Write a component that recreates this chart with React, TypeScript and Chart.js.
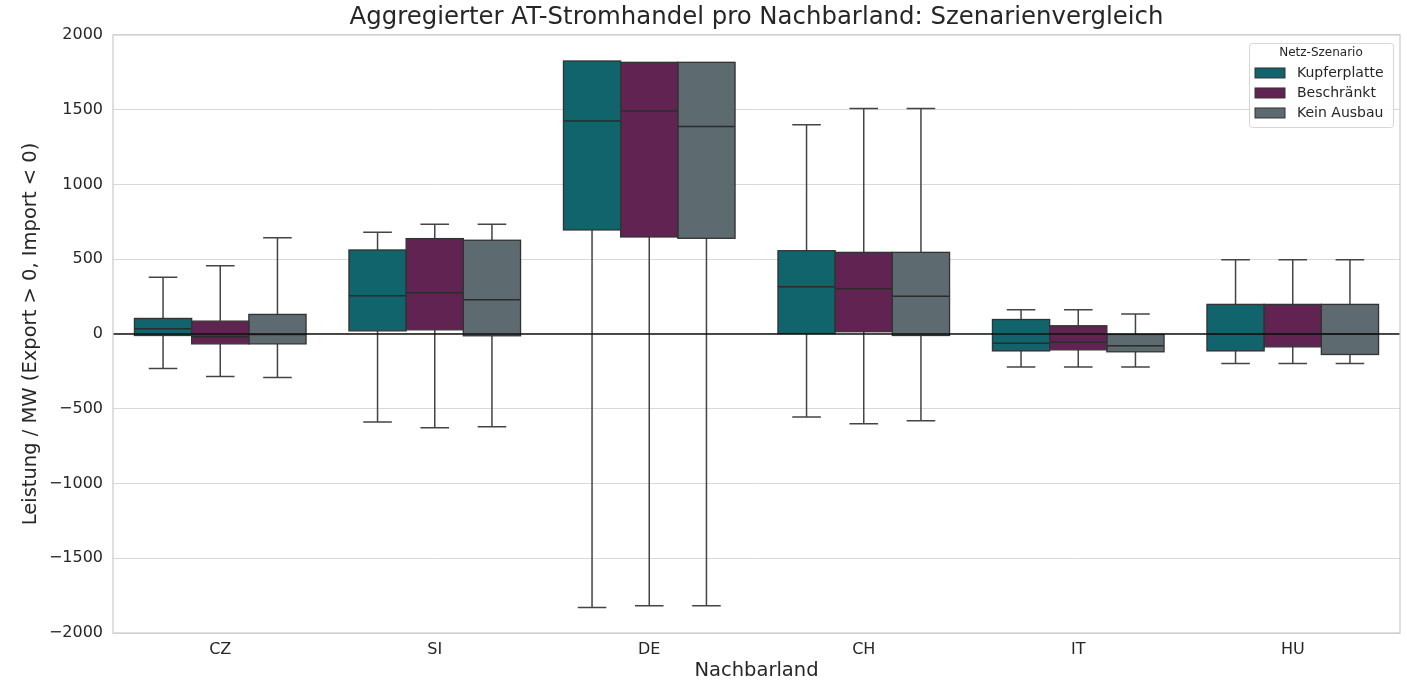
import React, { useEffect, useRef } from "react";
import { Chart, registerables } from "chart.js";

Chart.register(...registerables);

const categories = ["CZ", "SI", "DE", "CH", "IT", "HU"];
const scenarios = ["Kupferplatte", "Beschränkt", "Kein Ausbau"];
const colors = ["#11636c", "#612452", "#5d6a70"];

// per scenario: values for each category
const whiskerLow = [
  [-231, -589, -1830, -556, -220, -198],
  [-285, -627, -1817, -600, -220, -198],
  [-291, -620, -1817, -580, -220, -198],
];
const q1 = [
  [-10, 21, 696, 3, -113, -113],
  [-66, 28, 649, 15, -106, -86],
  [-66, -12, 640, -10, -119, -137],
];
const median = [
  [35, 256, 1424, 316, -62, 0],
  [-19, 276, 1491, 303, -55, 0],
  [-3, 229, 1388, 253, -79, 0],
];
const q3 = [
  [104, 562, 1826, 557, 97, 198],
  [86, 638, 1817, 546, 55, 198],
  [131, 627, 1817, 546, -3, 198],
];
const whiskerHigh = [
  [380, 680, 1826, 1399, 162, 497],
  [457, 734, 1817, 1509, 162, 497],
  [644, 734, 1817, 1509, 133, 497],
];

const yTicks = [-2000, -1500, -1000, -500, 0, 500, 1000, 1500, 2000];

const FONT = "'DejaVu Sans', sans-serif";
const TEXT = "#262626";

const boxPlugin = {
  id: "boxWhiskers",
  afterDatasetsDraw(chart: any) {
    const ctx = chart.ctx;
    const y = chart.scales.y;
    const area = chart.chartArea;
    ctx.save();
    chart.data.datasets.forEach((_: any, d: number) => {
      const meta = chart.getDatasetMeta(d);
      meta.data.forEach((el: any, i: number) => {
        const x = el.x;
        const w = el.width;
        const yq1 = y.getPixelForValue(q1[d][i]);
        const yq3 = y.getPixelForValue(q3[d][i]);
        const ylo = y.getPixelForValue(whiskerLow[d][i]);
        const yhi = y.getPixelForValue(whiskerHigh[d][i]);
        const ymed = y.getPixelForValue(median[d][i]);
        ctx.strokeStyle = "#444444";
        ctx.lineWidth = 1.5;
        ctx.beginPath();
        if (Math.abs(yhi - yq3) > 0.5) {
          ctx.moveTo(x, yq3);
          ctx.lineTo(x, yhi);
          ctx.moveTo(x - w / 4, yhi);
          ctx.lineTo(x + w / 4, yhi);
        }
        ctx.moveTo(x, yq1);
        ctx.lineTo(x, ylo);
        ctx.moveTo(x - w / 4, ylo);
        ctx.lineTo(x + w / 4, ylo);
        ctx.stroke();
        ctx.strokeStyle = "#2b2b2b";
        ctx.lineWidth = 1.5;
        ctx.beginPath();
        ctx.moveTo(x - w / 2, ymed);
        ctx.lineTo(x + w / 2, ymed);
        ctx.stroke();
        // crisp box outline
        ctx.strokeStyle = "#333333";
        ctx.lineWidth = 1.3;
        ctx.strokeRect(x - w / 2, yq3, w, yq1 - yq3);
      });
    });
    // zero line
    const y0 = y.getPixelForValue(0);
    ctx.strokeStyle = "#111111";
    ctx.lineWidth = 1.6;
    ctx.beginPath();
    ctx.moveTo(area.left, y0);
    ctx.lineTo(area.right, y0);
    ctx.stroke();
    // frame
    ctx.strokeStyle = "#cccccc";
    ctx.lineWidth = 1.25;
    ctx.strokeRect(area.left, area.top, area.right - area.left, area.bottom - area.top);
    ctx.restore();
  },
  afterDraw(chart: any) {
    const ctx = chart.ctx;
    const area = chart.chartArea;
    const right = area.right - 7;
    const top = area.top + 8;
    const w = 144;
    const h = 84;
    const left = right - w;
    ctx.save();
    ctx.fillStyle = "rgba(255,255,255,0.85)";
    ctx.strokeStyle = "#d5d5d5";
    ctx.lineWidth = 1;
    ctx.beginPath();
    (ctx as any).roundRect(left + 0.5, top + 0.5, w, h, 3);
    ctx.fill();
    ctx.stroke();
    ctx.fillStyle = TEXT;
    ctx.font = `12px ${FONT}`;
    ctx.textAlign = "center";
    ctx.textBaseline = "middle";
    ctx.fillText("Netz-Szenario", left + w / 2, top + 10);
    ctx.font = `14px ${FONT}`;
    ctx.textAlign = "left";
    chart.data.datasets.forEach((ds: any, d: number) => {
      const cy = top + 30 + d * 20;
      ctx.fillStyle = ds.backgroundColor;
      ctx.fillRect(left + 6, cy - 5, 30, 10);
      ctx.strokeStyle = "#333333";
      ctx.lineWidth = 1;
      ctx.strokeRect(left + 6, cy - 5, 30, 10);
      ctx.fillStyle = TEXT;
      ctx.fillText(ds.label, left + 48, cy);
    });
    ctx.restore();
  },
};

export default function App() {
  const ref = useRef<HTMLCanvasElement | null>(null);
  useEffect(() => {
    document.body.style.margin = "0";
    if (!ref.current) return;
    const chart = new Chart(ref.current, {
      type: "bar",
      data: {
        labels: categories,
        datasets: scenarios.map((s, d) => ({
          label: s,
          data: categories.map((_, i) => [q1[d][i], q3[d][i]]) as any,
          backgroundColor: colors[d],
          borderColor: "#333333",
          borderWidth: 0,
          borderSkipped: false,
          categoryPercentage: 0.8,
          barPercentage: 1.0,
        })),
      },
      options: {
        responsive: false,
        animation: false,
        layout: { padding: { left: 0, right: 7, top: 0, bottom: 0 } },
        plugins: {
          legend: { display: false },
          tooltip: { enabled: false },
          title: {
            display: true,
            fullSize: false,
            text: "Aggregierter AT-Stromhandel pro Nachbarland: Szenarienvergleich",
            color: TEXT,
            font: { family: FONT, size: 24.4, weight: "normal" as any, lineHeight: 1.2 },
            padding: { top: 2.6, bottom: 3.1 },
          },
        },
        scales: {
          x: {
            grid: { display: false, drawTicks: false },
            border: { display: false },
            ticks: { color: TEXT, font: { family: FONT, size: 16 }, padding: 7 },
            title: {
              display: true,
              text: "Nachbarland",
              color: TEXT,
              font: { family: FONT, size: 19.5 },
              padding: { top: 0, bottom: 0 },
            },
            afterFit(scale: any) {
              scale.height = 50;
            },
          },
          y: {
            min: -2000,
            max: 2000,
            afterBuildTicks(scale: any) {
              scale.ticks = yTicks.map((v) => ({ value: v }));
            },
            grid: { color: "#d9d9d9", lineWidth: 1, drawTicks: false },
            border: { display: false },
            ticks: {
              color: TEXT,
              font: { family: FONT, size: 16 },
              padding: 10,
              callback: (v: any) => String(v).replace("-", "\u2212"),
            },
            title: {
              display: true,
              text: "Leistung / MW (Export > 0, Import < 0)",
              color: TEXT,
              font: { family: FONT, size: 19.5 },
              padding: { top: 19, bottom: 0 },
            },
            afterFit(scale: any) {
              scale.width = 113;
            },
          },
        },
      },
      plugins: [boxPlugin],
    });
    return () => chart.destroy();
  }, []);
  return (
    <div style={{ width: 1407, height: 683 }}>
      <canvas ref={ref} width={1407} height={683} style={{ display: "block" }} />
    </div>
  );
}
